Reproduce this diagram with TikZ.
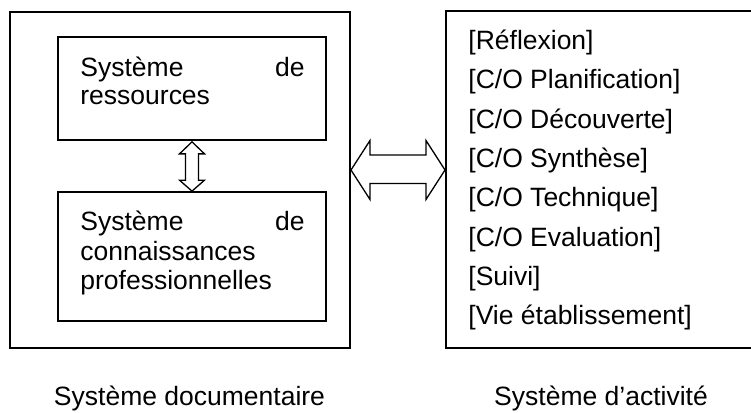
\documentclass[tikz,border=0pt]{standalone}
\usepackage{fontspec}
\setmainfont{Liberation Sans}
\usetikzlibrary{fit,calc}
\begin{document}
\begin{tikzpicture}[x=0.5pt,y=-0.5pt,
  outerbox/.style={draw=black,line width=1pt,inner sep=0pt},
  innerbox/.style={draw=black,line width=0.85pt,inner sep=0pt},
  hollowarrow/.style={draw=black,fill=white,line width=0.65pt,line join=miter},
  txt/.style={inner sep=0pt,font=\fontsize{13.25}{15}\selectfont}]
\useasboundingbox (0,0) rectangle (751,413);
\clip (0,0) rectangle (751,413);
% boxes
\node[outerbox,fit={(10,12)(350,348)}] (doc) {};
\node[innerbox,fit={(58,37)(326,140)}] (res) {};
\node[innerbox,fit={(58,192)(326,321)}] (con) {};
\node[outerbox,fit={(446,11)(770,348)}] (act) {};
% texts in left boxes
\node[txt,anchor=base west] (r1) at (80,76) {Système};
\node[txt,anchor=base east] (r2) at (305,76) {de};
\node[txt,anchor=base west] (r3) at (80,104) {ressources};
\node[txt,anchor=base west] (c1) at (80,230) {Système};
\node[txt,anchor=base east] (c2) at (305,230) {de};
\node[txt,anchor=base west] (c3) at (80,260) {connaissances};
\node[txt,anchor=base west] (c4) at (80,289) {professionnelles};
% texts in right box
\foreach \t [count=\i] in {[Réflexion],[C/O Planification],[C/O Découverte],[C/O Synthèse],[C/O Technique],[C/O Evaluation],[Suivi],[Vie établissement]}{
  \node[txt,anchor=base west] (a\i) at (468,{49.5+39.3*(\i-1)}) {\t};
}
% captions
\node[txt,anchor=base] (capdoc) at (189.5,405) {Système documentaire};
\node[txt,anchor=base] (capact) at (601,405) {Système d’activité};
% vertical double arrow
\coordinate (vt) at ([yshift=-0.5pt]res.south);
\coordinate (vb) at (con.north);
\draw[hollowarrow] (vt) -- ([shift={(12.5,12)}]vt) -- ([shift={(6.5,12)}]vt)
  -- ([shift={(6.5,-11)}]vb) -- ([shift={(12.5,-11)}]vb) -- (vb)
  -- ([shift={(-12.5,-11)}]vb) -- ([shift={(-6.5,-11)}]vb)
  -- ([shift={(-6.5,12)}]vt) -- ([shift={(-12.5,12)}]vt) -- cycle;
% horizontal double arrow
\coordinate (hl) at ([shift={(0,-10)}]doc.east);
\coordinate (hr) at ([shift={(0,-9.5)}]act.west);
\draw[hollowarrow] (hl) -- ([shift={(19,-29.5)}]hl) -- ([shift={(19,-15)}]hl)
  -- ([shift={(-19,-15)}]hr) -- ([shift={(-19,-29.5)}]hr) -- (hr)
  -- ([shift={(-19,29.5)}]hr) -- ([shift={(-19,13.5)}]hr)
  -- ([shift={(19,13.5)}]hl) -- ([shift={(19,29.5)}]hl) -- cycle;
\end{tikzpicture}
\end{document}
